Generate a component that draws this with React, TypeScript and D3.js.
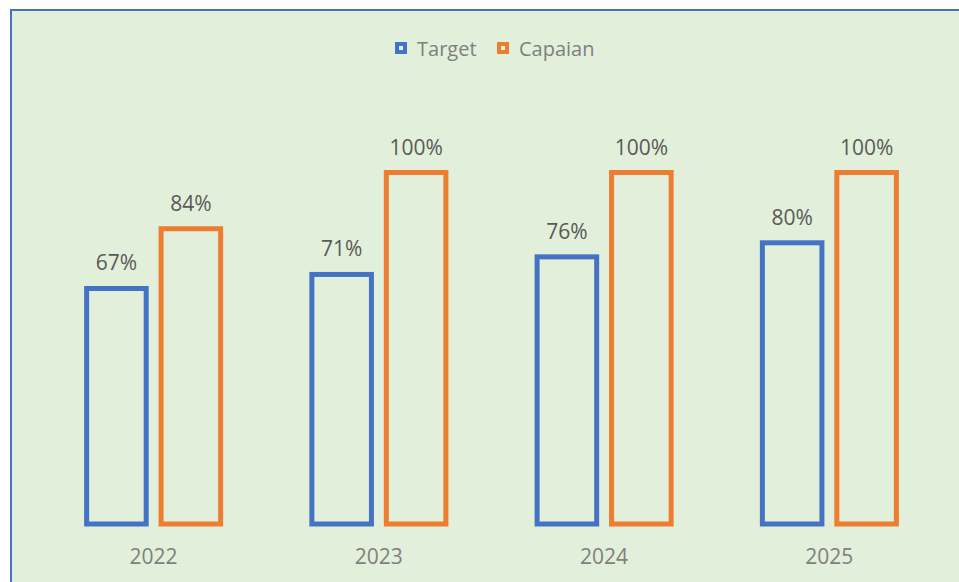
import React from "react";
import * as d3 from "d3";

const years = ["2022", "2023", "2024", "2025"];
const seriesNames = ["Target", "Capaian"];
const targetValues = [0.67, 0.71, 0.76, 0.8];
const capaianValues = [0.84, 1.0, 1.0, 1.0];
const colors = ["#4472C4", "#ED7D31"];

const width = 959;
const height = 582;

export default function App() {
  // scales
  const x0 = d3.scaleBand().domain(years).range([41, 942]).paddingInner(0.405).paddingOuter(0.2025);
  const x1 = d3.scaleBand().domain(seriesNames).range([0, x0.bandwidth()]).paddingInner(0.2);
  const y = d3.scaleLinear().domain([0, 1]).range([524, 172.5]);
  const fmt = d3.format(".0%");

  const series = [targetValues, capaianValues];

  return (
    <div style={{ position: "absolute", left: 0, top: 0 }}>
      <svg width={width} height={height} style={{ display: "block" }} fontFamily="'Open Sans', sans-serif">
        <rect x={0} y={0} width={width} height={height} fill="#ffffff" />
        <rect x={11} y={10} width={width + 20} height={height + 20} fill="#E2EFDA" stroke="#4472C4" strokeWidth={2} />

        {/* legend */}
        {seriesNames.map((name, i) => {
          const lx = i === 0 ? 397 : 499;
          return (
            <g key={name} transform={`translate(${lx},44)`}>
              <rect x={0} y={0} width={8} height={8} fill="none" stroke={colors[i]} strokeWidth={4} />
              <text x={20} y={12} fontSize={20} fill="#7f7f7f">{name}</text>
            </g>
          );
        })}

        {/* bars */}
        {years.map((yr, gi) => (
          <g key={yr} transform={`translate(${x0(yr)},0)`}>
            {seriesNames.map((name, si) => {
              const v = series[si][gi];
              const bx = x1(name) as number;
              const bw = x1.bandwidth();
              return (
                <g key={name}>
                  <rect x={bx} y={y(v)} width={bw} height={y(0) - y(v)} fill="none" stroke={colors[si]} strokeWidth={5} />
                  <text x={bx + bw / 2} y={y(v) - 18} textAnchor="middle" fontSize={21} fill="#595959">
                    {fmt(v)}
                  </text>
                </g>
              );
            })}
            <text x={x0.bandwidth() / 2} y={564} textAnchor="middle" fontSize={21} fill="#808080">
              {yr}
            </text>
          </g>
        ))}
      </svg>
    </div>
  );
}
